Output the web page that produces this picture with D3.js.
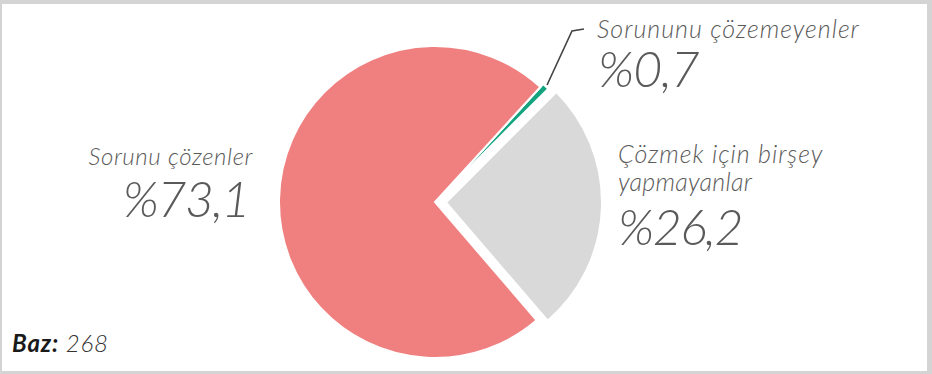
<!DOCTYPE html>
<html>
<head>
<meta charset="utf-8">
<script src="https://cdn.jsdelivr.net/npm/d3@7"></script>
<style>
  html, body { margin: 0; padding: 0; background: #d4d4d4; }
  svg { display: block; }
  text { font-family: Lato, "Open Sans", "DejaVu Sans", sans-serif; font-style: italic; }
</style>
</head>
<body>
<svg id="chart" width="932" height="374"></svg>
<script>
// ---- data ----
const categories = ["Sorununu çözemeyenler", "Çözmek için birşey yapmayanlar", "Sorunu çözenler"];
const values = [0.7, 26.2, 73.1];
const valueLabels = ["%0,7", "%26,2", "%73,1"];
const colors = ["#14a37f", "#d9d9d9", "#f08080"];
const baseCount = 268;

const svg = d3.select("#chart");
const W = 932, H = 374;

// frame
svg.append("rect").attr("x", 0).attr("y", 0).attr("width", W).attr("height", H).attr("fill", "#d4d4d4");
svg.append("rect").attr("x", 2).attr("y", 4).attr("width", 925).attr("height", 367).attr("fill", "#ffffff");

const cx = 435, cy = 202, R = 156;
const deg = Math.PI / 180;
const start = 42.5 * deg;

const pie = d3.pie().sort(null).value(d => d).startAngle(start).endAngle(start + 2 * Math.PI);
const arcs = pie(values);
const arc = d3.arc().innerRadius(0).outerRadius(R);
const offsets = [4, 11, 0];

const g = svg.append("g").attr("transform", `translate(${cx},${cy})`);
g.selectAll("path").data(arcs).join("path")
  .attr("d", arc)
  .attr("fill", (d, i) => colors[i])
  .attr("stroke", "#fff")
  .attr("stroke-width", 2)
  .attr("transform", (d, i) => {
    const a = (d.startAngle + d.endAngle) / 2;
    const o = offsets[i];
    return `translate(${o * Math.sin(a)},${-o * Math.cos(a)})`;
  });

// leader line for the small slice
const small = arcs[0];
const am = (small.startAngle + small.endAngle) / 2;
const p0 = [cx + (R + 6) * Math.sin(am), cy - (R + 6) * Math.cos(am)];
svg.append("polyline")
  .attr("points", [p0, [572, 31], [584, 29]].map(p => p.join(",")).join(" "))
  .attr("fill", "none").attr("stroke", "#444").attr("stroke-width", 1.6);

const labelColor = "#5a5a5a";
function label(x, y, txt, size, ls, anchor) {
  svg.append("text").attr("x", x).attr("y", y).attr("text-anchor", anchor || "start")
    .attr("font-size", size).attr("font-weight", 300).attr("letter-spacing", ls)
    .attr("fill", labelColor).text(txt);
}
// left label
label(253, 165, "Sorunu çözenler", 24, 0.6, "end");
label(249, 217, valueLabels[2], 50, -1.5, "end");
// top right label
label(597, 38, categories[0], 25, 1);
label(598, 87, valueLabels[0], 50, -1);
// right label
label(618, 163, "Çözmek için birşey", 25, 1);
label(618, 191, "yapmayanlar", 25, 0.3);
label(618, 245, valueLabels[1], 50, -1.5);

// base
const baz = svg.append("text").attr("x", 12).attr("y", 352).attr("font-size", 24).attr("letter-spacing", 0.8);
baz.append("tspan").attr("font-weight", 700).attr("fill", "#1a1a1a").text("Baz:");
baz.append("tspan").attr("font-weight", 300).attr("fill", "#333").text(" " + baseCount);
</script>
</body>
</html>
